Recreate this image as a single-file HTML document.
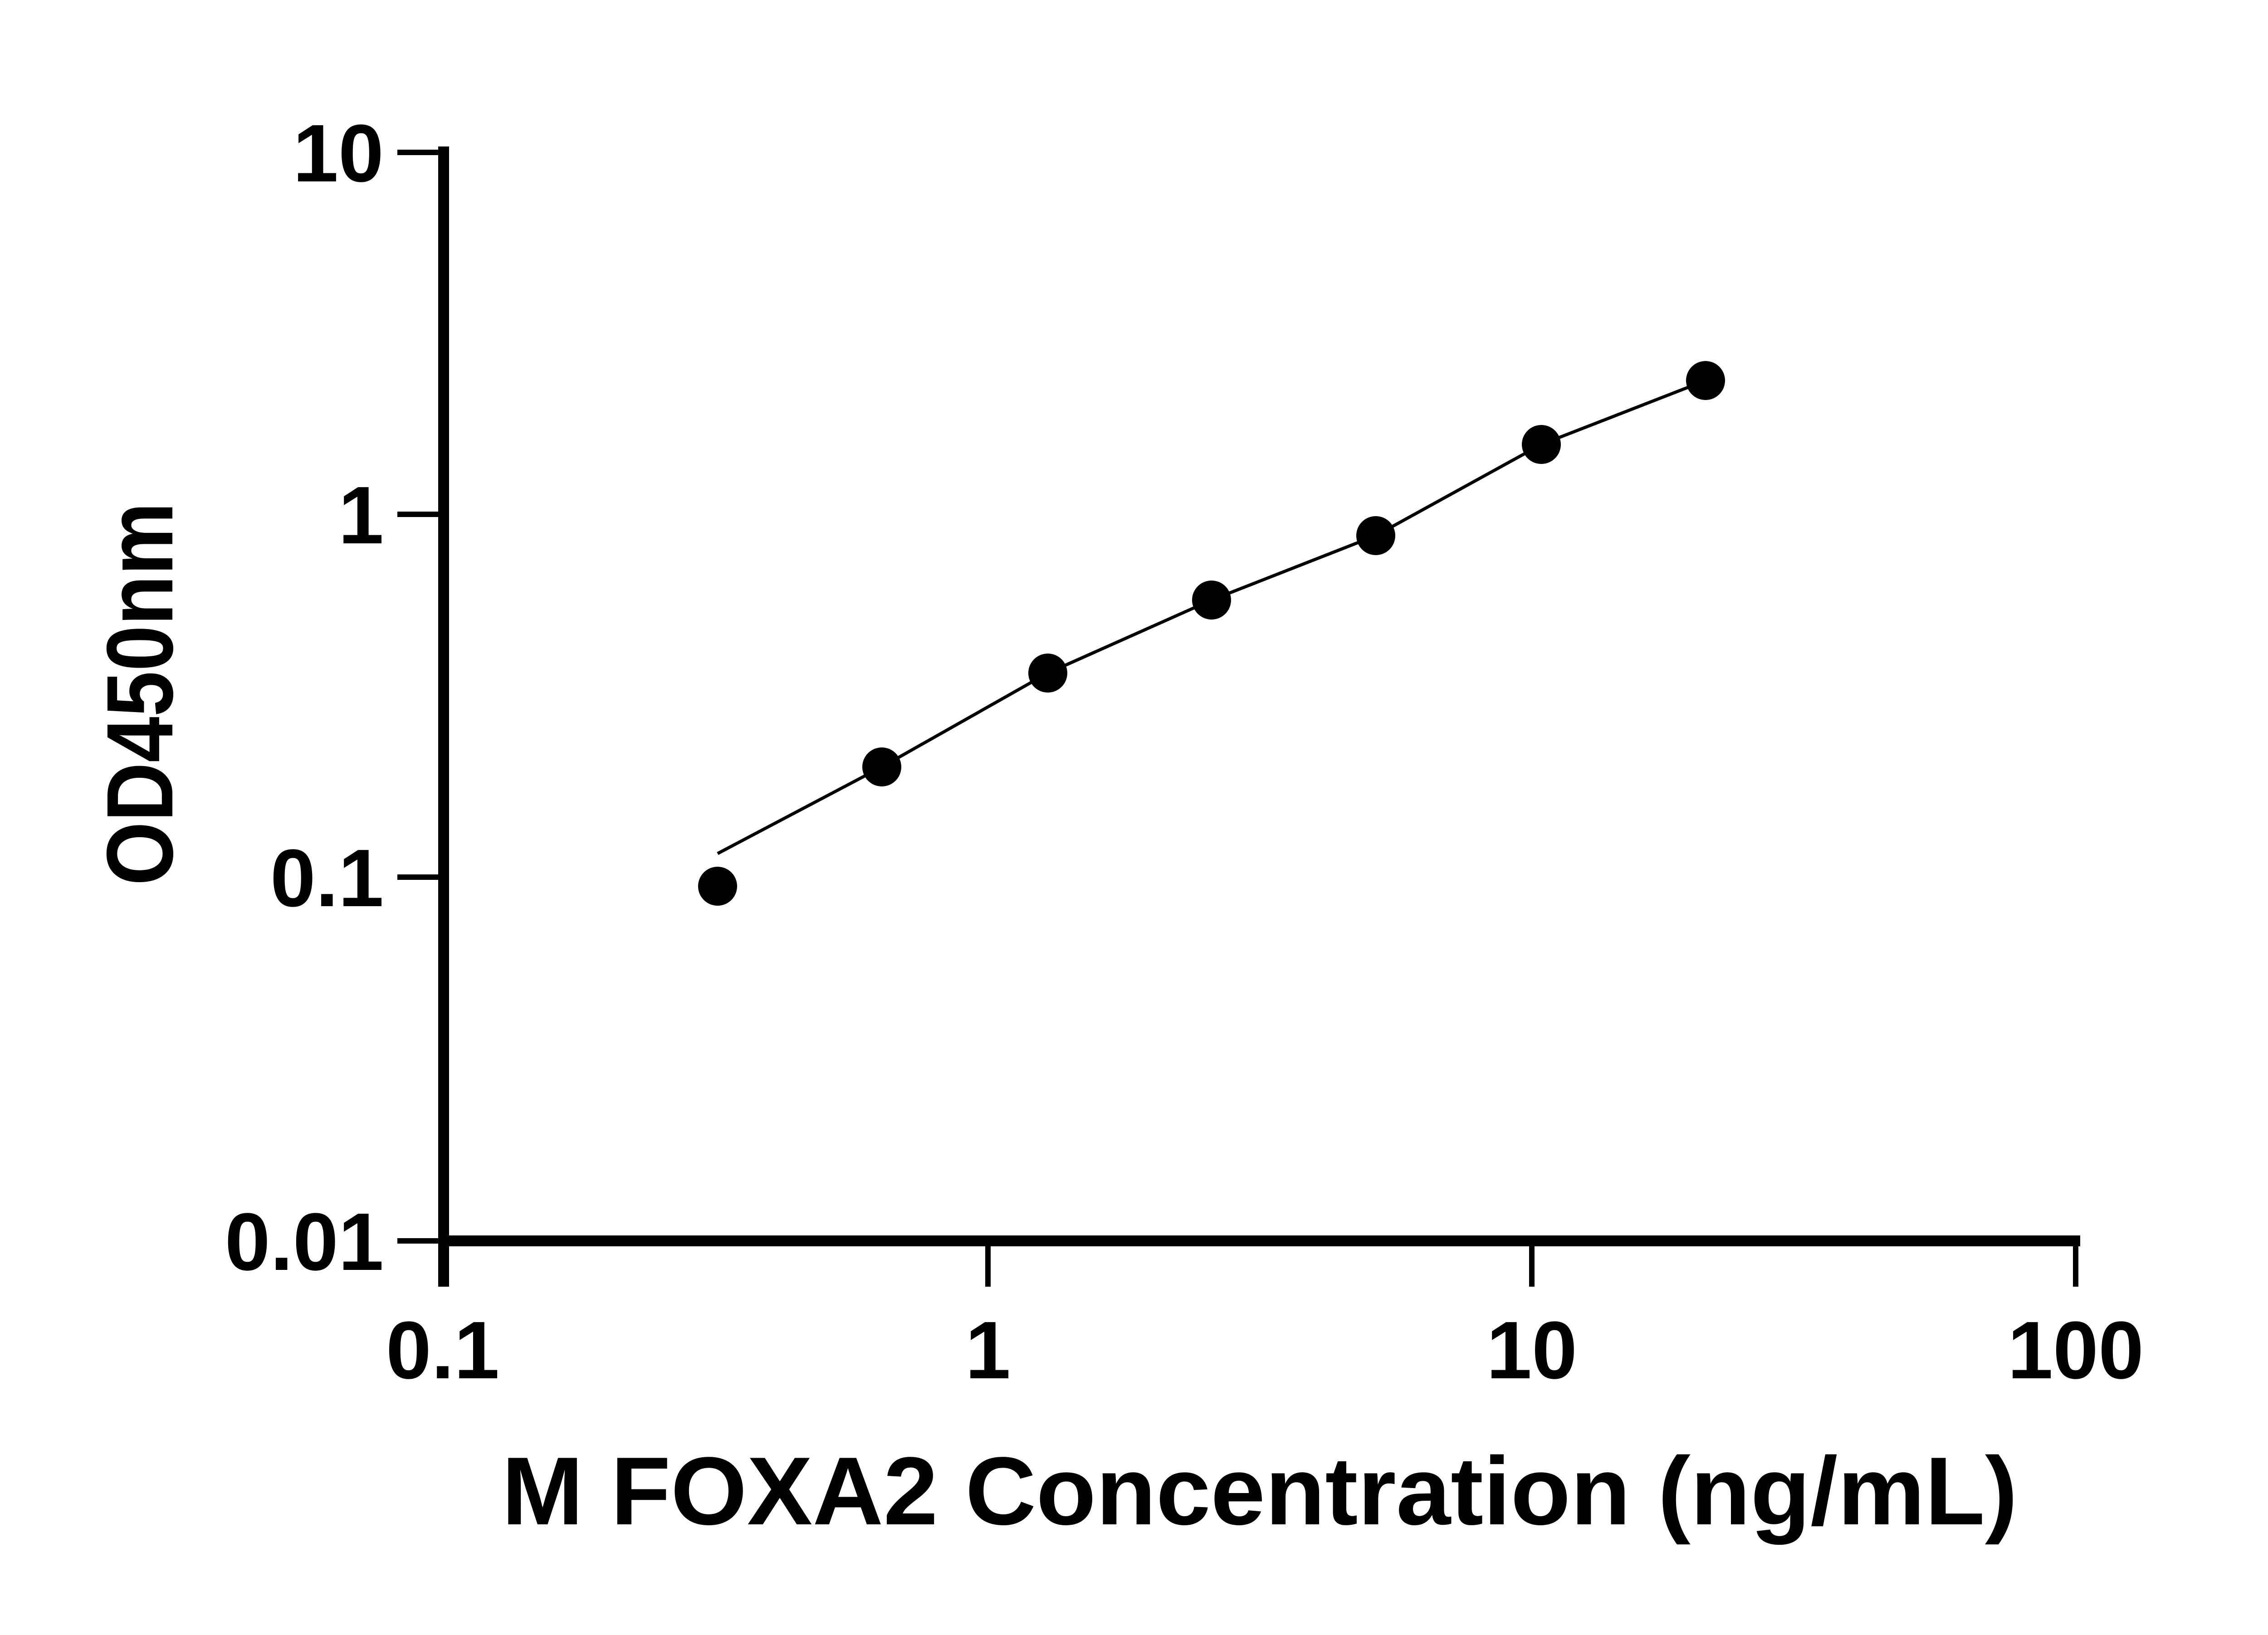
<!DOCTYPE html>
<html><head><style>html,body{margin:0;padding:0;background:#fff}</style></head>
<body>
<svg width="5130" height="3600" viewBox="0 0 5130 3600" xmlns="http://www.w3.org/2000/svg" font-family="Liberation Sans, Arial, sans-serif" font-weight="bold">
<rect width="5130" height="3600" fill="#fff"/>
<g stroke="#000" fill="none">
<line x1="978" y1="323" x2="978" y2="2837" stroke-width="24"/>
<line x1="966" y1="2736" x2="4586" y2="2736" stroke-width="24"/>
<g stroke-width="12">
<line x1="876" y1="336" x2="978" y2="336"/>
<line x1="876" y1="1134" x2="978" y2="1134"/>
<line x1="876" y1="1934" x2="978" y2="1934"/>
<line x1="876" y1="2736" x2="978" y2="2736"/>
<line x1="2178" y1="2736" x2="2178" y2="2837"/>
<line x1="3377" y1="2736" x2="3377" y2="2837"/>
<line x1="4576" y1="2736" x2="4576" y2="2837"/>
</g>
<polyline stroke-width="7" points="1582,1882 1944,1691 2310,1484 2671,1323 3033,1181 3398,980 3760,839"/>
</g>
<g fill="#000">
<circle cx="1582" cy="1954" r="43"/>
<circle cx="1944" cy="1691" r="43"/>
<circle cx="2310" cy="1484" r="43"/>
<circle cx="2671" cy="1323" r="43"/>
<circle cx="3033" cy="1181" r="43"/>
<circle cx="3398" cy="980" r="43"/>
<circle cx="3760" cy="839" r="43"/>
</g>
<g font-size="180" text-anchor="end">
<text x="846" y="400">10</text>
<text x="846" y="1198">1</text>
<text x="846" y="1998">0.1</text>
<text x="846" y="2800">0.01</text>
</g>
<g font-size="180" text-anchor="middle">
<text x="976" y="3039">0.1</text>
<text x="2178" y="3039">1</text>
<text x="3377" y="3039">10</text>
<text x="4576" y="3039">100</text>
</g>
<text x="2777" y="3361" font-size="213" text-anchor="middle" textLength="3342" lengthAdjust="spacingAndGlyphs">M FOXA2 Concentration (ng/mL)</text>
<text transform="translate(380,1530) rotate(-90)" font-size="208" text-anchor="middle" textLength="845" lengthAdjust="spacingAndGlyphs">OD450nm</text>
</svg>
</body></html>
